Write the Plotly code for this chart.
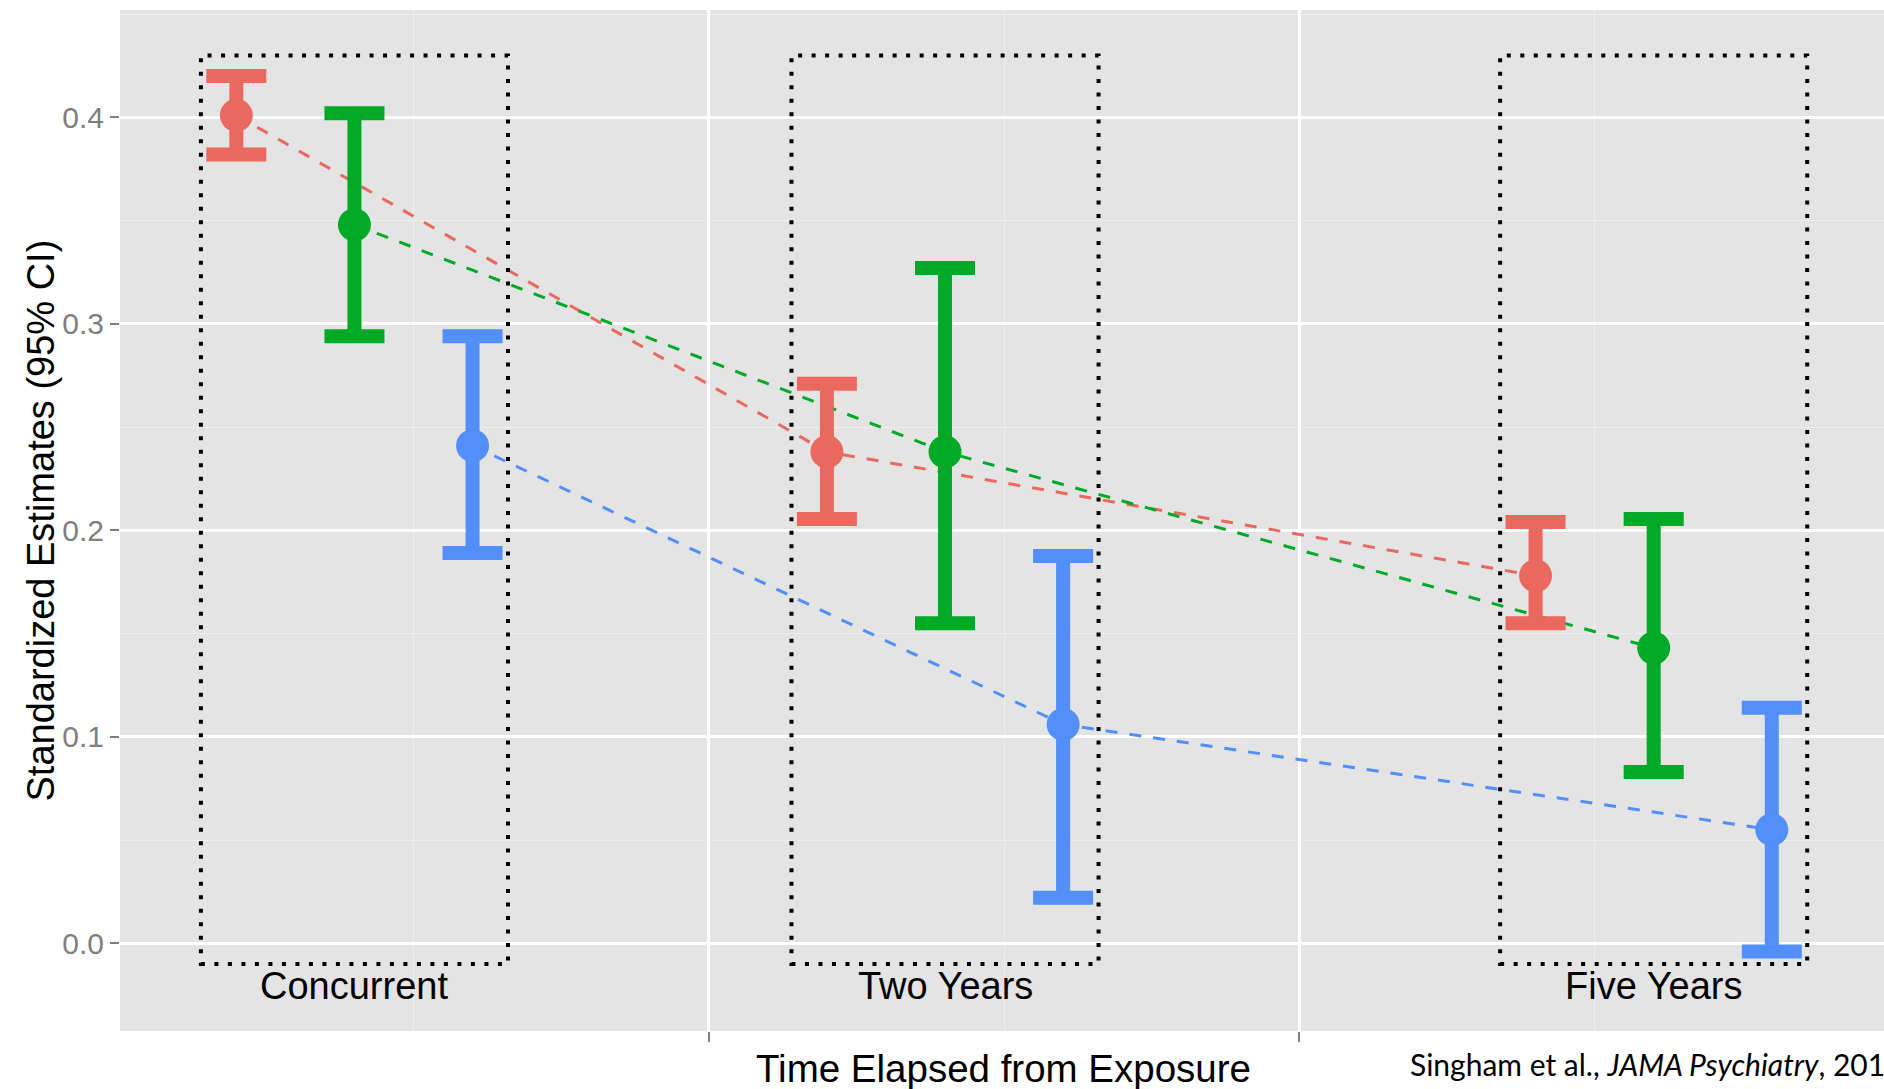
import plotly.graph_objects as go

# ---- data ----
groups = ["Concurrent", "Two Years", "Five Years"]
group_centers = [0.4, 1.4, 2.6]
dodge = [-0.2, 0.0, 0.2]
series_names = ["Series A", "Series B", "Series C"]
colors = ["#E9695F", "#00A926", "#528FF8"]

est_a = [0.401, 0.238, 0.178]
low_a = [0.382, 0.2055, 0.155]
high_a = [0.420, 0.271, 0.204]

est_b = [0.348, 0.238, 0.143]
low_b = [0.294, 0.155, 0.083]
high_b = [0.402, 0.327, 0.2055]

est_c = [0.241, 0.106, 0.055]
low_c = [0.189, 0.022, -0.004]
high_c = [0.294, 0.1875, 0.114]

estimates = [est_a, est_b, est_c]
lows = [low_a, low_b, low_c]
highs = [high_a, high_b, high_c]

box_half_width = 0.26
box_bottom = -0.01
box_top = 0.43

y_ticks = [0.0, 0.1, 0.2, 0.3, 0.4]
x_axis_title = "Time Elapsed from Exposure"
y_axis_title = "Standardized Estimates (95% CI)"
citation_plain = "Singham et al., "
citation_italic = "JAMA Psychiatry"
citation_tail = ", 201"

FONT = "Liberation Sans, Arial, Helvetica, sans-serif"

fig = go.Figure()

# dashed connecting lines (beneath)
for i in range(3):
    xs = [c + dodge[i] for c in group_centers]
    fig.add_trace(go.Scatter(
        x=xs, y=estimates[i], mode="lines",
        line=dict(color=colors[i], width=3, dash="12px,12px"),
        showlegend=False, hoverinfo="skip"))

# points with error bars
for i in range(3):
    xs = [c + dodge[i] for c in group_centers]
    ep = [h - e for h, e in zip(highs[i], estimates[i])]
    em = [e - l for e, l in zip(estimates[i], lows[i])]
    fig.add_trace(go.Scatter(
        x=xs, y=estimates[i], mode="markers", name=series_names[i],
        marker=dict(color=colors[i], size=33, line=dict(width=0)),
        error_y=dict(type="data", array=ep, arrayminus=em, symmetric=False,
                     color=colors[i], thickness=14, width=30),
        showlegend=False))

# dotted boxes
for c in group_centers:
    fig.add_shape(type="rect", xref="x", yref="y",
                  x0=c - box_half_width, x1=c + box_half_width,
                  y0=box_bottom, y1=box_top,
                  line=dict(color="black", width=4, dash="4px,9.5px"),
                  fillcolor="rgba(0,0,0,0)", layer="above")

annotations = []
for c, g in zip(group_centers, groups):
    annotations.append(dict(x=c, y=-0.0207, xref="x", yref="y", text=g,
                            showarrow=False, xanchor="center", yanchor="middle",
                            font=dict(family=FONT, size=38, color="black")))

annotations.append(dict(x=(1004 - 120) / 1764, y=(1031 - 1068) / 1021,
                        xref="paper", yref="paper", text=x_axis_title,
                        showarrow=False, xanchor="center", yanchor="middle",
                        font=dict(family=FONT, size=38.5, color="black")))
annotations.append(dict(x=(40 - 120) / 1764, y=0.5, xref="paper", yref="paper",
                        text=y_axis_title, textangle=-90, showarrow=False,
                        xanchor="center", yanchor="middle",
                        font=dict(family=FONT, size=38, color="black")))
annotations.append(dict(x=(1408 - 120) / 1764, y=(1031 - 1064) / 1021,
                        xref="paper", yref="paper",
                        text=citation_plain + "<i>" + citation_italic + "</i>" + citation_tail,
                        showarrow=False, xanchor="left", yanchor="middle",
                        font=dict(family="Lato, Open Sans, sans-serif", size=30, color="black")))

fig.update_layout(
    width=1884, height=1089,
    margin=dict(l=120, r=0, t=10, b=58, pad=0),
    paper_bgcolor="white", plot_bgcolor="#E4E4E4",
    showlegend=False,
    annotations=annotations,
    xaxis=dict(range=[0.003, 2.99], tickvals=[1, 2], ticktext=["", ""],
               showgrid=True, gridcolor="white", gridwidth=2.5,
               ticks="outside", ticklen=10, tickwidth=2, tickcolor="#7F7F7F",
               zeroline=False, showline=False,
               minor=dict(tick0=0.5, dtick=1, showgrid=True, gridcolor="#EEEEEE",
                          gridwidth=1.2, ticks="")),
    yaxis=dict(range=[-0.0425, 0.452], tickvals=y_ticks, tickformat=".1f",
               showgrid=True, gridcolor="white", gridwidth=3,
               ticks="outside", ticklen=9, tickwidth=2, tickcolor="#7F7F7F",
               tickfont=dict(family=FONT, size=30, color="#7F7F7F"),
               zeroline=False, showline=False,
               minor=dict(tick0=0.05, dtick=0.1, showgrid=True, gridcolor="#EEEEEE",
                          gridwidth=1.2, ticks="")),
)

fig.write_html("out.html")
